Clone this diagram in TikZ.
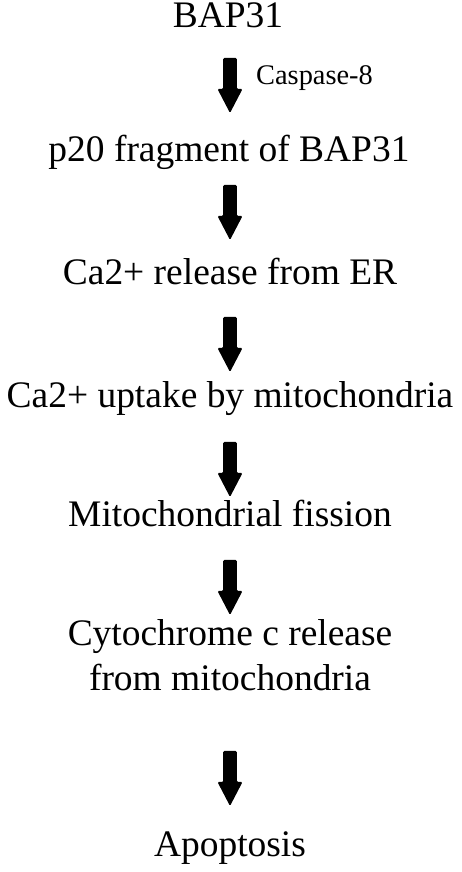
\documentclass[tikz,border=0pt]{standalone}
\usepackage{fontspec}
\setmainfont{Liberation Serif}
\begin{document}
\begin{tikzpicture}[x=1bp,y=1bp,
  lbl/.style={anchor=base, inner sep=0pt, font=\fontsize{37.6}{46}\selectfont, align=center},
  small/.style={anchor=base west, inner sep=0pt, font=\fontsize{28.5}{34}\selectfont},
  pics/blkarrow/.style={code={
    \fill[black, rounded corners=1.2bp] (-6.8,0) -- (6.8,0) -- (6.8,-31) -- (12.5,-31)
      -- (0,-55) -- (-12.5,-31) -- (-6.8,-31) -- cycle;}}]
\useasboundingbox (0,0) rectangle (462,872);
\node[lbl] (bap) at (228,844) {BAP31};
\node[small] (casp) at (256,787) {Caspase-8};
\node[lbl] (p20) at (229,710) {p20 fragment of BAP31};
\node[lbl] (rel) at (230,587) {Ca2+ release from ER};
\node[lbl] (upt) at (230,464) {Ca2+ uptake by mitochondria};
\node[lbl] (fis) at (230,345) {Mitochondrial fission};
\node[lbl] (cyt) at (230,181) {Cytochrome c release\\ from mitochondria};
\node[lbl] (apo) at (230,15) {Apoptosis};
\pic (a1) at (230,814) {blkarrow};
\pic (a2) at (230,687) {blkarrow};
\pic (a3) at (230,555) {blkarrow};
\pic (a4) at (230,430) {blkarrow};
\pic (a5) at (230,312) {blkarrow};
\pic (a6) at (230,121) {blkarrow};
\end{tikzpicture}
\end{document}
